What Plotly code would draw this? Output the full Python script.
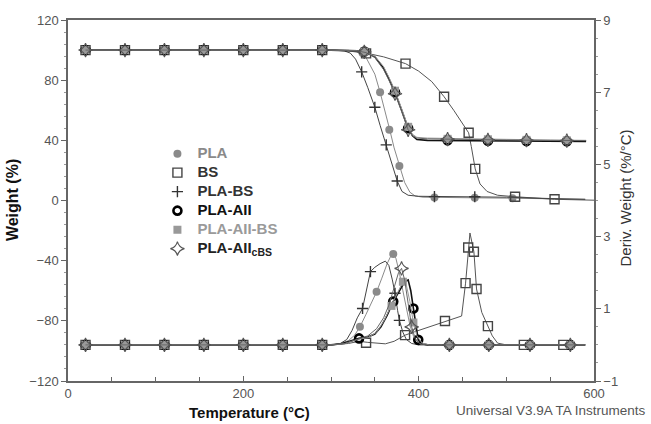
import plotly.graph_objects as go

# ---------------- data ----------------
FLAT_T = [20, 65, 110, 155, 200, 245, 290]

# TGA curves (Weight %, left axis)
PLA_T = [20, 300, 320, 330, 340, 350, 356, 362, 367, 372, 378, 384, 390, 396, 405, 420, 460, 510, 560, 590]
PLA_W = [100, 100, 99.5, 98.5, 95, 84, 72, 59, 47, 35, 23, 12, 5.5, 3, 2.2, 2, 1.8, 1.5, 1, 0.8]
BS_T = [20, 300, 320, 340, 360, 385, 400, 415, 429, 440, 448, 454, 457, 460, 464.5, 470, 478, 490, 510, 555, 600]
BS_W = [100, 100, 99.8, 98, 95.5, 91, 86, 79, 69, 60, 53, 48, 45, 36, 21, 11, 6, 3.5, 2.5, 0.8, 0.2]
PLABS_T = [20, 300, 315, 322, 328, 335, 342, 350, 356, 363, 370, 375.5, 381, 388, 400, 450, 500, 550, 590]
PLABS_W = [100, 100, 99.5, 98, 94, 85.5, 75, 62, 50, 37, 23, 13, 6, 3.5, 2.8, 2.6, 2.2, 1.3, 0.8]
AII_T = [20, 300, 330, 340, 350, 360, 366, 373, 380, 388, 393, 398, 410, 450, 500, 550, 591]
AII_W = [100, 100, 99.5, 98.5, 95.5, 88, 81, 72, 61, 48, 43, 40.5, 40, 39.8, 39.6, 39.5, 39.3]
AIIBS_W = [100, 100, 99.5, 98.5, 96, 89, 82, 73, 62, 49, 44, 42, 41.5, 41, 40.5, 40.2, 40]
AIIC_W = [100, 100, 99.5, 98.3, 95, 87, 80, 71, 60, 47, 43, 41.5, 41, 40.5, 40.2, 40, 39.8]

# TGA markers
PLA_MT = FLAT_T + [336, 356, 366.5, 378, 418, 464, 507]
PLA_MW = [100] * 7 + [98, 72, 47, 23, 2, 1.8, 1.5]
BS_MT = FLAT_T + [340, 385, 429, 457, 464.5, 510, 555]
BS_MW = [100] * 7 + [97.8, 91, 69, 45, 21, 2.5, 0.8]
PLABS_MT = FLAT_T + [335, 350, 363, 375.5, 418, 464]
PLABS_MW = [100] * 7 + [85.5, 62, 37, 13, 2.6, 2.5]
AII_MT = FLAT_T + [338, 373, 388, 433, 479, 523, 569]
AII_MW = [100] * 7 + [99, 72, 48, 40, 39.7, 39.5, 39.4]
AIIBS_MW = [100] * 7 + [99, 73, 49, 41, 40.7, 40.3, 40]
AIIC_MW = [100] * 7 + [98.8, 71, 47, 40.8, 40.3, 40.1, 39.8]

# DTG curves (Deriv. Weight %/°C, right axis)
PLA_DT = [20, 300, 310, 320, 327, 333, 340, 346, 352, 358, 364, 368, 371, 374, 378, 382, 386, 390, 394, 398, 404, 412, 590]
PLA_DV = [0, 0, 0.03, 0.12, 0.27, 0.5, 0.85, 1.15, 1.47, 1.85, 2.25, 2.45, 2.52, 2.4, 2.0, 1.5, 1.0, 0.55, 0.25, 0.1, 0.02, 0, 0]
BS_DT = [20, 300, 320, 332, 342, 352, 362, 372, 384.5, 395, 405, 415, 430, 440, 449, 453.5, 456.5, 458.5, 463, 466, 472, 479, 484, 490, 500, 590]
BS_DV = [0, 0, 0.04, 0.1, 0.07, 0.04, 0.03, 0.1, 0.27, 0.36, 0.44, 0.52, 0.66, 0.72, 0.8, 1.71, 2.7, 3.1, 2.58, 1.55, 0.9, 0.52, 0.25, 0.05, 0, 0]
PLABS_DT = [20, 300, 310, 318, 324, 330, 336, 341, 345, 350, 356, 362, 366, 370, 373, 376, 378, 382, 386, 392, 400, 590]
PLABS_DV = [0, 0, 0.03, 0.15, 0.4, 0.75, 1.01, 1.6, 2.03, 2.15, 2.25, 2.32, 2.2, 1.8, 1.43, 0.95, 0.68, 0.35, 0.15, 0.04, 0, 0]
AII_DT = [20, 300, 312, 322, 332, 342, 350, 357, 364, 371, 378, 384, 388, 391, 394, 397, 399.5, 403, 410, 590]
AII_DV = [0, 0, 0.03, 0.1, 0.18, 0.22, 0.3, 0.5, 0.82, 1.2, 1.5, 1.75, 1.8, 1.5, 1.01, 0.5, 0.14, 0.04, 0, 0]
AIIBS_DT = [20, 300, 315, 330, 342, 352, 360, 369, 376, 382, 386, 390, 394, 398, 404, 412, 590]
AIIBS_DV = [0, 0, 0.03, 0.15, 0.2, 0.35, 0.65, 1.08, 1.45, 1.75, 1.65, 1.2, 0.62, 0.25, 0.05, 0, 0]
AIIC_DT = [20, 300, 315, 330, 342, 352, 360, 366, 372, 377, 380.5, 384, 388, 392, 396, 401, 408, 590]
AIIC_DV = [0, 0, 0.03, 0.15, 0.25, 0.45, 0.75, 1.1, 1.6, 2.0, 2.12, 1.8, 1.15, 0.5, 0.18, 0.04, 0, 0]

# DTG markers
PLA_DMT = FLAT_T + [333, 352, 371, 435, 480]
PLA_DMV = [0] * 7 + [0.5, 1.47, 2.52, 0, 0]
BS_DMT = FLAT_T + [340, 384.5, 430, 453.5, 456.5, 463, 466, 479, 520, 565]
BS_DMV = [0] * 7 + [0.06, 0.27, 0.66, 1.71, 2.7, 2.58, 1.55, 0.52, 0, 0]
PLABS_DMT = FLAT_T + [336, 345, 373, 378, 435, 480]
PLABS_DMV = [0] * 7 + [1.01, 2.03, 1.43, 0.68, 0, 0]
AII_DMT = FLAT_T + [332, 371, 394, 399.5, 435, 480, 527, 573]
AII_DMV = [0] * 7 + [0.18, 1.2, 1.01, 0.14, 0, 0, 0, 0]
AIIBS_DMT = FLAT_T + [369, 382, 394, 435, 480, 527, 573]
AIIBS_DMV = [0] * 7 + [1.08, 1.75, 0.62, 0, 0, 0, 0]
AIIC_DMT = FLAT_T + [380.5, 392, 435, 480, 527, 573]
AIIC_DMV = [0] * 7 + [2.12, 0.5, 0, 0, 0, 0]

# ---------------- styles ----------------
STY = {
    "PLA": dict(lc="#8a8a8a", lw=1, sym="circle", ms=8, mc="#8a8a8a", mlw=0, tc="#8a8a8a"),
    "BS": dict(lc="#555555", lw=1, sym="square-open", ms=9, mc="#444444", mlw=1.4, tc="#333333"),
    "PLA-BS": dict(lc="#444444", lw=1, sym="cross-thin", ms=8, mc="#333333", mlw=1.4, tc="#333333"),
    "PLA-AII": dict(lc="#111111", lw=1.6, sym="circle-open", ms=8, mc="#000000", mlw=2.6, tc="#111111"),
    "PLA-AII-BS": dict(lc="#9a9a9a", lw=1, sym="square", ms=8, mc="#999999", mlw=0, tc="#9a9a9a"),
    "PLA-AII<sub>cBS</sub>": dict(lc="#666666", lw=1, sym="star-diamond-open", ms=10, mc="#555555", mlw=1.1, tc="#222222"),
}

series = [
    ("PLA", PLA_T, PLA_W, PLA_MT, PLA_MW, PLA_DT, PLA_DV, PLA_DMT, PLA_DMV),
    ("BS", BS_T, BS_W, BS_MT, BS_MW, BS_DT, BS_DV, BS_DMT, BS_DMV),
    ("PLA-BS", PLABS_T, PLABS_W, PLABS_MT, PLABS_MW, PLABS_DT, PLABS_DV, PLABS_DMT, PLABS_DMV),
    ("PLA-AII", AII_T, AII_W, AII_MT, AII_MW, AII_DT, AII_DV, AII_DMT, AII_DMV),
    ("PLA-AII-BS", AII_T, AIIBS_W, AII_MT, AIIBS_MW, AIIBS_DT, AIIBS_DV, AIIBS_DMT, AIIBS_DMV),
    ("PLA-AII<sub>cBS</sub>", AII_T, AIIC_W, AII_MT, AIIC_MW, AIIC_DT, AIIC_DV, AIIC_DMT, AIIC_DMV),
]

fig = go.Figure()
for name, t, w, mt, mw, dt, dv, dmt, dmv in series:
    s = STY[name]
    line = dict(color=s["lc"], width=s["lw"])
    mk = dict(symbol=s["sym"], size=s["ms"], color=s["mc"], line=dict(color=s["mc"], width=s["mlw"]))
    fig.add_trace(go.Scatter(x=t, y=w, mode="lines", line=line, showlegend=False, yaxis="y"))
    fig.add_trace(go.Scatter(x=dt, y=dv, mode="lines", line=line, showlegend=False, yaxis="y2"))
    fig.add_trace(go.Scatter(
        x=mt, y=mw, mode="markers", marker=mk, yaxis="y",
        name='<span style="color:%s;font-size:15px"><b>%s</b></span>' % (s["tc"], name),
        legendgroup=name, showlegend=True))
    fig.add_trace(go.Scatter(x=dmt, y=dmv, mode="markers", marker=mk, yaxis="y2",
                             legendgroup=name, showlegend=False))

AX = "#666666"
TICKF = dict(family="Liberation Sans, Arial, sans-serif", size=13, color="#555555")

fig.update_layout(
    width=651, height=424,
    margin=dict(l=68, r=57, t=20, b=43),
    paper_bgcolor="white", plot_bgcolor="white",
    font=dict(family="Liberation Sans, Arial, sans-serif"),
    xaxis=dict(range=[0, 600], tickvals=[0, 200, 400, 600], showgrid=False, zeroline=False,
               showline=True, linecolor=AX, linewidth=1.5, mirror=True,
               ticks="inside", ticklen=5, tickcolor=AX, tickfont=TICKF,
               minor=dict(dtick=50, ticks="inside", ticklen=4, tickcolor=AX)),
    yaxis=dict(range=[-120, 120], tickvals=[-120, -80, -40, 0, 40, 80, 120], showgrid=False, zeroline=False,
               showline=True, linecolor=AX, linewidth=1.5,
               ticks="outside", ticklen=5, tickcolor=AX, tickfont=TICKF,
               minor=dict(dtick=8, ticks="outside", ticklen=2, tickcolor="#999999")),
    yaxis2=dict(range=[-1, 9], tickvals=[-1, 1, 3, 5, 7, 9], overlaying="y", side="right",
                showgrid=False, zeroline=False, showline=True, linecolor=AX, linewidth=1.5,
                ticks="outside", ticklen=5, tickcolor=AX, tickfont=TICKF,
                minor=dict(dtick=0.5, ticks="outside", ticklen=2, tickcolor="#999999")),
    legend=dict(x=0.17, y=0.67, xanchor="left", yanchor="top", bgcolor="rgba(0,0,0,0)",
                font=dict(size=12, family="Liberation Sans, Arial, sans-serif"),
                itemwidth=30, tracegroupgap=0),
    showlegend=True,
)

fig.add_annotation(text="<b>Weight (%)</b>", xref="paper", yref="paper", x=-0.1065, y=0.501,
                   xanchor="center", yanchor="middle",
                   textangle=-90, showarrow=False, font=dict(size=16, color="#111111"))
fig.add_annotation(text="Deriv. Weight (%/°C)", xref="paper", yref="paper", x=1.06, y=0.507,
                   xanchor="center", yanchor="middle",
                   textangle=-90, showarrow=False, font=dict(size=15, color="#333333"))
fig.add_annotation(text="<b>Temperature (°C)</b>", xref="paper", yref="paper", x=0.346, y=-0.086,
                   xanchor="center", yanchor="middle",
                   showarrow=False, font=dict(size=15, color="#111111"))
fig.add_annotation(text="Universal V3.9A TA Instruments", xref="paper", yref="paper", x=1.1027, y=-0.083,
                   xanchor="right", yanchor="middle",
                   showarrow=False, font=dict(size=13.5, color="#555555"))

fig.write_html("out.html")
